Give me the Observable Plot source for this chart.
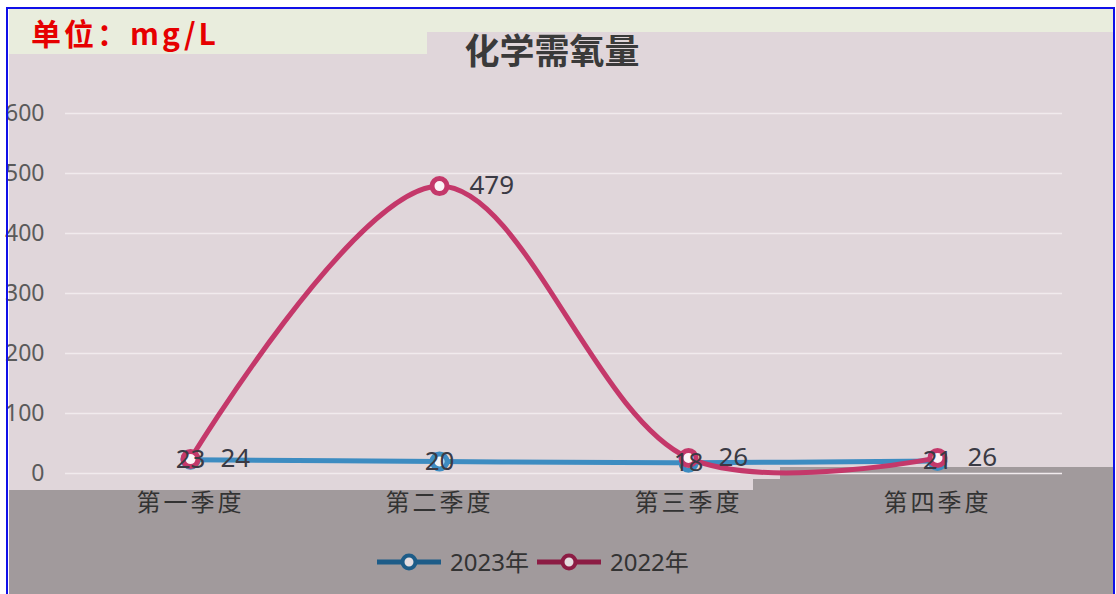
<!DOCTYPE html>
<html>
<head>
<meta charset="utf-8">
<script src="https://cdn.jsdelivr.net/npm/d3@7"></script>
<script src="https://cdn.jsdelivr.net/npm/@observablehq/plot@0.6"></script>
<style>
  html, body { margin: 0; padding: 0; background: #fff; }
  #wrap { position: relative; width: 1116px; height: 594px; overflow: hidden; background: #fff;
          font-family: "Noto Sans", "Noto Sans CJK SC", sans-serif; }
  .abs { position: absolute; }
  #chart svg { position: absolute; left: 0; top: 0; }
  #chart [aria-label="x-axis tick label"] text { letter-spacing: 3px; }
</style>
</head>
<body>
<div id="wrap">
  <!-- background panels -->
  <div class="abs" style="left:9px;top:9px;width:1104px;height:585px;background:#e0d6da"></div>
  <div class="abs" style="left:9px;top:9px;width:1104px;height:23px;background:#e9eddd"></div>
  <div class="abs" style="left:9px;top:9px;width:418px;height:45px;background:#e9eddd"></div>
  <div class="abs" style="left:9px;top:490px;width:1104px;height:104px;background:#a19a9c"></div>
  <div class="abs" style="left:753px;top:479px;width:360px;height:20px;background:#a19a9c"></div>
  <div class="abs" style="left:780px;top:467px;width:333px;height:20px;background:#a19a9c"></div>

  <div id="chart" class="abs" style="left:0;top:0;width:1116px;height:594px"></div>

  <div class="abs" id="title" style="left:0;top:31px;width:1104px;text-align:center;font-size:35px;line-height:36px;font-weight:bold;color:#3a3a3a;font-family:'Noto Sans CJK SC',sans-serif">化学需氧量</div>
  <div class="abs" id="unit" style="left:31px;top:15px;font-size:30px;line-height:34px;font-weight:bold;color:#e60000;letter-spacing:3px;font-family:'Noto Sans CJK SC',sans-serif">单位：mg/L</div>

  <div class="abs" id="legend" style="left:377px;top:546px;display:flex;align-items:center;font-size:24px;line-height:32px;color:#333"></div>

  <!-- border overlay -->
  <div class="abs" style="left:6px;top:7px;width:1105px;height:600px;border:2px solid #1010e8;pointer-events:none"></div>
</div>
<script>
const quarters = ["第一季度", "第二季度", "第三季度", "第四季度"];
const v2023 = [23, 20, 18, 21];
const v2022 = [24, 479, 26, 26];
const yTicks = [0, 100, 200, 300, 400, 500, 600];
const seriesNames = ["2023年", "2022年"];
const lineColors = ["#3d8cc1", "#c4386a"];
const legendColors = ["#1d5c88", "#8c1c44"];

const d23 = quarters.map((q, i) => ({q, v: v2023[i]}));
const d22 = quarters.map((q, i) => ({q, v: v2022[i]}));

const plot = Plot.plot({
  width: 1116,
  height: 594,
  marginLeft: 65,
  marginRight: 54,
  marginTop: 113,
  marginBottom: 121,
  style: {background: "transparent", overflow: "visible", fontFamily: "'Noto Sans','Noto Sans CJK SC',sans-serif"},
  x: {type: "point", domain: quarters, padding: 0.5},
  y: {domain: [0, 600], ticks: yTicks},
  marks: [
    Plot.gridY(yTicks, {stroke: "#f1ebed", strokeOpacity: 1, strokeWidth: 1.6}),
    Plot.axisY(yTicks, {tickSize: 0, tickPadding: 21, fontSize: 23, color: "#5a5a5a", label: null}),
    Plot.axisX({tickSize: 0, tickPadding: 20, fontSize: 24, color: "#333", label: null, fontFamily: "'Noto Sans CJK SC',sans-serif"}),
    Plot.line(d23, {x: "q", y: "v", stroke: lineColors[0], strokeWidth: 5, curve: "catmull-rom"}),
    Plot.dot(d23, {x: "q", y: "v", r: 7.5, fill: "#f4f4f6", stroke: lineColors[0], strokeWidth: 5}),
    Plot.line(d22, {x: "q", y: "v", stroke: lineColors[1], strokeWidth: 5, curve: "catmull-rom"}),
    Plot.dot(d22, {x: "q", y: "v", r: 7.5, fill: "#fbf4f7", stroke: lineColors[1], strokeWidth: 5}),
    Plot.text(d23, {x: "q", y: "v", text: d => String(d.v), fontSize: 26, fill: "#3a3a44"}),
    Plot.text(d22, {x: "q", y: "v", text: d => String(d.v), fontSize: 26, fill: "#3a3a44", dx: 30, textAnchor: "start"})
  ]
});
document.getElementById("chart").appendChild(plot);

const legend = document.getElementById("legend");
seriesNames.forEach((name, i) => {
  const item = document.createElement("div");
  item.style.display = "flex";
  item.style.alignItems = "center";
  item.style.marginRight = i === 0 ? "8px" : "0";
  item.innerHTML = `<svg width="64" height="22" style="margin-right:9px"><line x1="0" y1="11" x2="64" y2="11" stroke="${legendColors[i]}" stroke-width="5"/><circle cx="32" cy="11" r="6.5" fill="#e4dde0" stroke="${legendColors[i]}" stroke-width="4"/></svg><span>${name}</span>`;
  legend.appendChild(item);
});
</script>
</body>
</html>
